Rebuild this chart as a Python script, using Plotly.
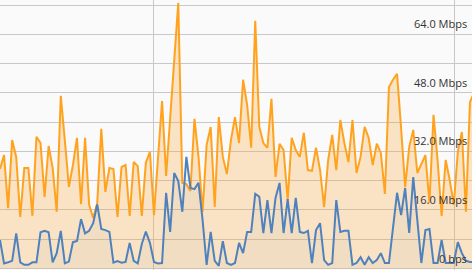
import plotly.graph_objects as go

# Traffic samples (Mbps), one value per time step
inbound = [27.2, 31.0, 16.5, 35.1, 30.5, 14.1, 27.5, 27.5, 14.4, 36.0,
           34.3, 19.6, 33.5, 27.5, 15.5, 47.2, 35.1, 22.3, 28.3, 35.7,
           17.6, 35.7, 17.4, 13.8, 17.9, 38.2, 20.9, 27.5, 27.2, 14.1,
           27.8, 28.3, 14.4, 29.1, 28.0, 14.4, 28.9, 31.9, 14.6, 30.2,
           45.8, 25.3, 40.6, 56.5, 72.6, 23.4, 23.1, 21.2, 40.9, 30.5,
           15.5, 33.8, 38.7, 16.8, 41.4, 30.5, 25.8, 35.1, 41.4, 34.3,
           51.6, 44.7, 33.0, 67.7, 38.7, 34.3, 33.0, 46.4, 25.0, 34.1,
           32.4, 18.7, 35.7, 32.4, 30.5, 37.1, 26.9, 26.7, 33.0, 26.9,
           16.8, 29.7, 36.5, 26.9, 40.6, 34.3, 29.1, 40.6, 26.1, 30.5,
           38.7, 35.7, 28.3, 34.1, 31.6, 20.4, 49.6, 51.6, 53.2, 38.4,
           22.3, 33.2, 37.9, 26.1, 28.6, 31.0, 17.9, 42.0, 29.7, 14.4,
           29.7, 24.2, 17.4, 31.9, 37.3, 15.5, 45.5, 48.0]

outbound = [7.8, 1.4, 1.7, 2.1, 9.6, 1.7, 1.0, 1.0, 1.7, 1.7,
            9.9, 10.3, 9.9, 1.7, 4.2, 10.3, 1.4, 1.9, 7.2, 7.5,
            13.5, 9.6, 10.3, 12.4, 17.5, 10.8, 10.5, 10.0, 1.6, 2.0,
            1.6, 1.8, 7.0, 2.1, 1.4, 6.7, 10.1, 7.0, 1.8, 1.4,
            1.5, 20.7, 10.0, 26.1, 23.9, 15.5, 30.5, 22.0, 21.7, 23.4,
            13.3, 1.0, 10.0, 2.1, 0.7, 7.5, 1.5, 1.0, 1.5, 7.0,
            4.2, 10.0, 10.0, 20.4, 19.6, 9.7, 18.7, 9.7, 19.3, 23.4,
            9.7, 19.0, 9.7, 19.3, 10.0, 9.7, 10.3, 1.5, 10.5, 12.4,
            2.3, 1.0, 1.5, 18.7, 10.0, 10.3, 10.3, 1.0, 1.5, 3.1,
            1.0, 3.1, 1.5, 2.3, 4.2, 1.5, 1.5, 11.1, 20.7, 14.6,
            22.0, 9.7, 25.0, 13.3, 1.5, 10.5, 10.8, 1.5, 1.5, 7.8,
            1.5, 1.5, 1.5, 7.2, 4.2, 2.1, 1.8, 1.8]

tick_values = [0, 16, 32, 48, 64]
tick_labels = ["0 bps", "16.0 Mbps", "32.0 Mbps", "48.0 Mbps", "64.0 Mbps"]
time_grid = [37.8, 112.1]

steps = list(range(len(inbound)))

fig = go.Figure()
fig.add_trace(go.Scatter(
    x=steps, y=inbound, mode="lines",
    line=dict(color="#FFA31F", width=2),
    fill="tozeroy", fillcolor="rgba(250,170,60,0.28)",
    hoverinfo="skip"))
fig.add_trace(go.Scatter(
    x=steps, y=outbound, mode="lines",
    line=dict(color="#4F81BD", width=2),
    fill="tozeroy", fillcolor="rgba(80,110,160,0.05)",
    hoverinfo="skip"))

for v, t in zip(tick_values, tick_labels):
    fig.add_annotation(x=1, xref="paper", y=v, yref="y", text=t,
                       showarrow=False, xanchor="right", yanchor="middle",
                       xshift=-3.5, yshift=10.5,
                       font=dict(family="Open Sans", size=11, color="#333333"))

fig.update_layout(
    width=472, height=270,
    margin=dict(l=0, r=0, t=0, b=0),
    paper_bgcolor="#fafafa", plot_bgcolor="#fafafa",
    showlegend=False,
    xaxis=dict(range=[0, 116.5], tickvals=time_grid, showticklabels=False,
               showgrid=True, gridcolor="#c8c8c8", gridwidth=1,
               zeroline=False, showline=False, ticks=""),
    yaxis=dict(range=[-0.41, 73.4], tick0=0, dtick=8, showticklabels=False,
               showgrid=True, gridcolor="#c8c8c8", gridwidth=1,
               zeroline=False, showline=False, ticks=""),
)

fig.write_html("out.html")
